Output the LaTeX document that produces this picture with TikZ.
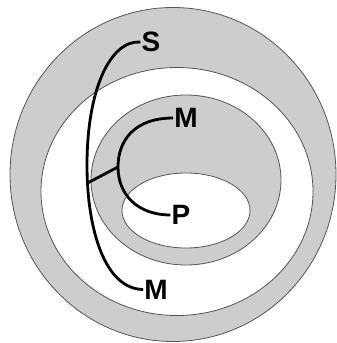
\documentclass[tikz,border=0pt]{standalone}
\usepackage{fontspec}
\setmainfont{Liberation Sans}
\usepackage{tikz}
\definecolor{shade}{RGB}{205,205,205}
\definecolor{rim}{RGB}{85,85,85}
\tikzset{
  zone/.style={draw=rim, line width=0.8pt},
  brace/.style={draw=black, line width=2.8pt},
  term/.style={font=\fontsize{28}{30}\selectfont\bfseries, inner sep=1pt}
}

\begin{document}
\begin{tikzpicture}[x=1pt, y=-1pt]
\useasboundingbox (0,0) rectangle (337,343);
% ---- the nested regions
\path[zone, fill=shade] (173,174.5) ellipse [x radius=163, y radius=167];
\path[zone, fill=white] (177,191.5) ellipse [x radius=136, y radius=124];
\path[zone, fill=shade] (186,180) ellipse [x radius=95, y radius=85];
\path[zone, fill=white] (186,210.5) ellipse [x radius=64, y radius=37.5];
% ---- the terms
\node[term] (S)  at (151,42)    {S};
\node[term] (M1) at (186,118) {M};
\node[term] (P)  at (181,215)   {P};
\node[term] (M2) at (156,289.5) {M};
\coordinate (jS) at (87.5,183);
\coordinate (jP) at (118,167);
% ---- the brackets
\draw[brace] (S.west) .. controls (110,40) and (87,90) .. (87,165)
  .. controls (87,230) and (105,289) .. (M2.west);
\draw[brace] (M1.west) .. controls (135,118) and (118,140) .. (jP)
  .. controls (118,195) and (138,215) .. (P.west);
\draw[brace] (jS) -- (jP);
\end{tikzpicture}
\end{document}
